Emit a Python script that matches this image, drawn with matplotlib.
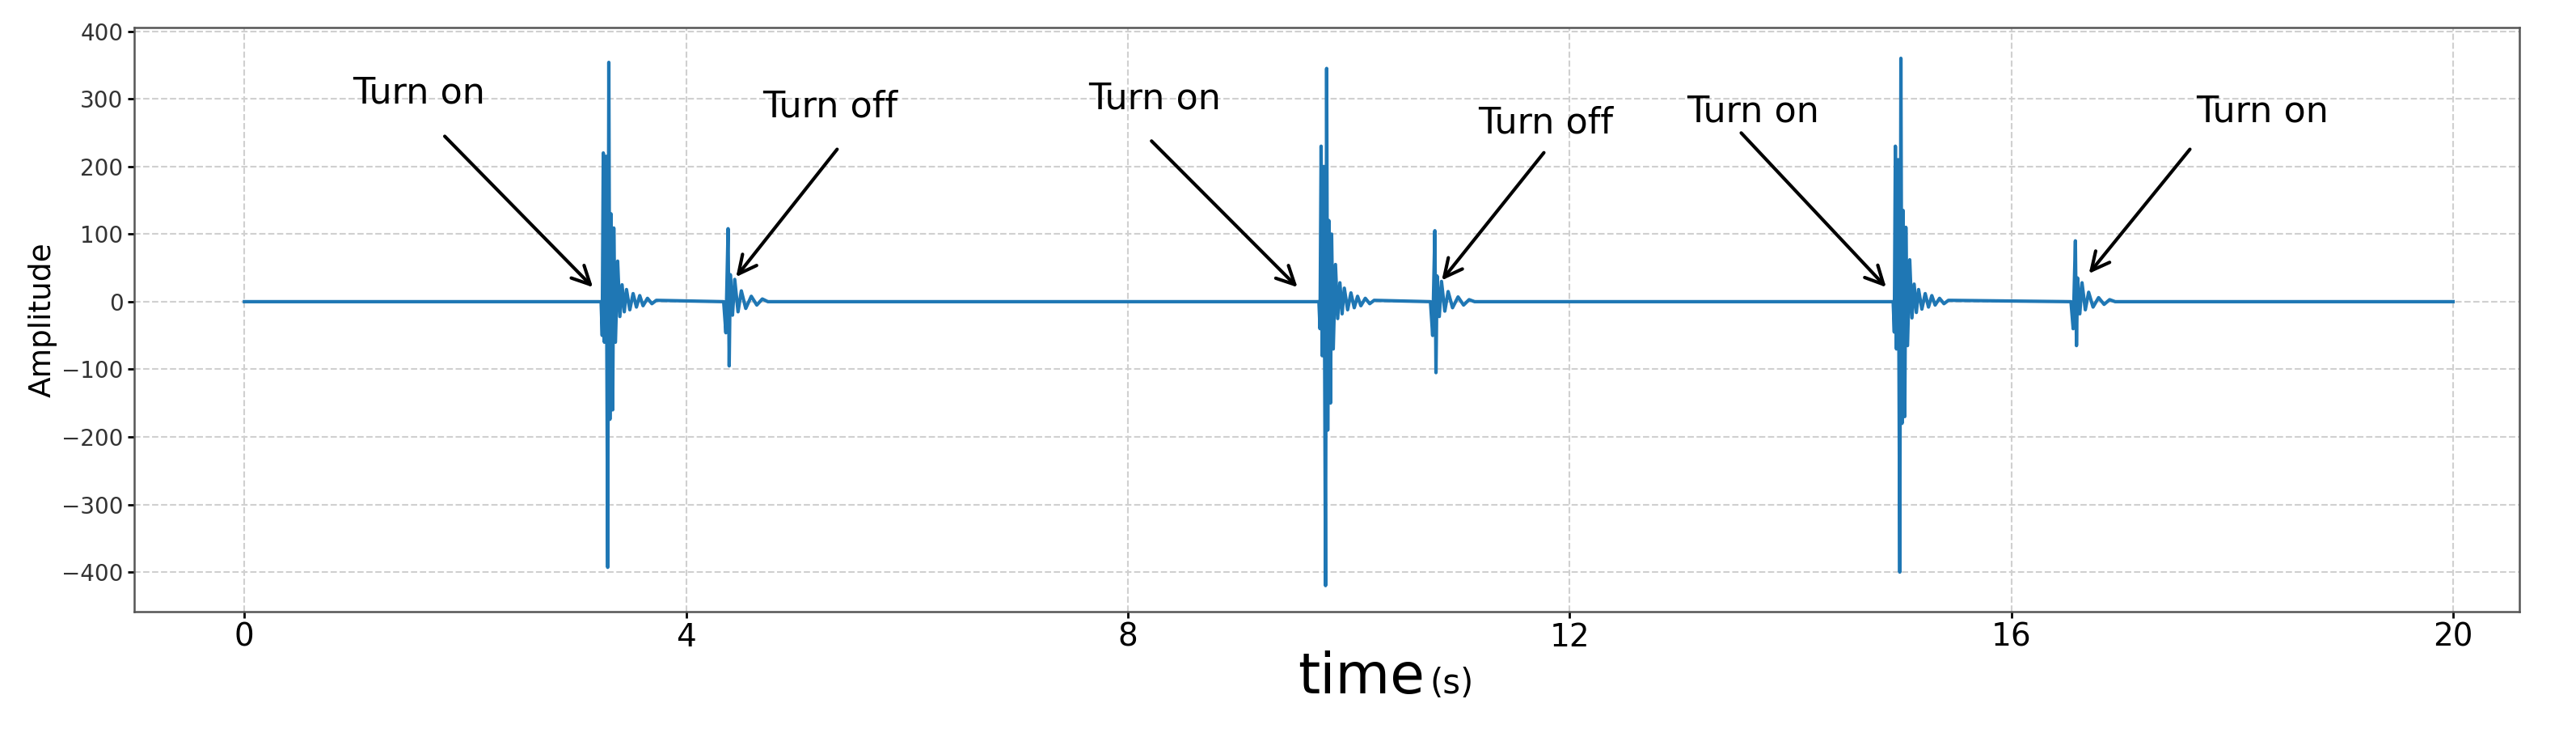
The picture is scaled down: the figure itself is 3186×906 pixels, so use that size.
import numpy as np
import matplotlib.pyplot as plt

# ------------------------------------------------------------------
# Datos
# ------------------------------------------------------------------
on_times = [3.23, 9.73, 14.93]        # inicio de cada evento "Turn on"
off_times = [4.34, 10.74, 16.54]      # inicio de cada evento secundario

on_dt = [0, 0.01, 0.02, 0.03, 0.045, 0.06, 0.07, 0.08, 0.09, 0.105, 0.115,
         0.13, 0.15, 0.17, 0.19, 0.21, 0.23, 0.26, 0.29, 0.32, 0.35, 0.38,
         0.42, 0.46, 0.5]
on_amp = [
    [0, -50, 220, -60, 215, -393, 354, -174, 130, -160, 109, -60, 60, -22,
     25, -15, 18, -12, 12, -8, 9, -6, 5, -3, 2],
    [0, -40, 230, -80, 200, -420, 345, -190, 120, -150, 100, -70, 55, -25,
     28, -18, 20, -12, 13, -9, 8, -6, 5, -3, 2],
    [0, -45, 230, -70, 210, -400, 360, -180, 135, -170, 110, -65, 62, -24,
     26, -16, 18, -11, 12, -8, 9, -5, 5, -3, 2],
]

off_dt = [0, 0.02, 0.04, 0.05, 0.06, 0.08, 0.1, 0.13, 0.16, 0.2, 0.25, 0.3,
          0.35, 0.4]
off_amp = [
    [0, -46, 108, -95, 40, -20, 33, -15, 16, -10, 8, -5, 4, 0],
    [0, -50, 105, -105, 38, -22, 30, -14, 15, -9, 7, -5, 3, 0],
    [0, -40, 90, -65, 35, -18, 28, -12, 14, -8, 6, -4, 3, 0],
]

labels = ["Turn on", "Turn off", "Turn on", "Turn off", "Turn on", "Turn on"]
text_xy = [(1.58, 308), (5.30, 288), (8.24, 300), (11.78, 264), (13.66, 281), (18.27, 281)]
tail_xy = [(1.80, 247), (5.38, 228), (8.20, 240), (11.78, 223), (13.54, 252), (17.63, 228)]
head_xy = [(3.17, 19), (4.44, 34), (9.55, 19), (10.83, 29), (14.88, 19), (16.69, 39)]

# ------------------------------------------------------------------
# Construir la señal
# ------------------------------------------------------------------
t = [0.0]
a = [0.0]
for k in range(3):
    for dt, v in zip(on_dt, on_amp[k]):
        t.append(on_times[k] + dt)
        a.append(v)
    for dt, v in zip(off_dt, off_amp[k]):
        t.append(off_times[k] + dt)
        a.append(v)
t.append(20.0)
a.append(0.0)

# ------------------------------------------------------------------
# Figura
# ------------------------------------------------------------------
fig = plt.figure(figsize=(31.86, 9.06), dpi=100)
ax = fig.add_axes([0.052, 0.166, 0.926, 0.796])

ax.plot(t, a, color='#1f77b4', linewidth=3)

for lab, txy, tl, hd in zip(labels, text_xy, tail_xy, head_xy):
    ax.text(txy[0], txy[1], lab, fontsize=32, ha='center', va='center')
    ax.annotate('', xy=hd, xytext=tl,
                arrowprops=dict(arrowstyle='->', color='black', lw=3,
                                mutation_scale=40))

ax.set_xlim(-1.0, 20.6)
ax.set_ylim(-458, 405)
ax.set_xticks([0, 4, 8, 12, 16, 20])
ax.set_yticks(np.arange(-400, 401, 100))
ax.tick_params(axis='x', labelsize=28, length=6, width=2)
ax.tick_params(axis='y', labelsize=20, length=6, width=2, labelcolor='#333333')
ax.grid(True, linestyle='--', color='#d0d0d0', linewidth=1.5)
for s in ax.spines.values():
    s.set_color('#555555')
    s.set_linewidth(1.8)

ax.set_ylabel("Amplitude", fontsize=27)
fig.text(0.553, 0.054, "time", fontsize=50, ha='right', va='baseline')
fig.text(0.555, 0.054, "(s)", fontsize=30, ha='left', va='baseline')

plt.savefig("out.png", dpi=100)
